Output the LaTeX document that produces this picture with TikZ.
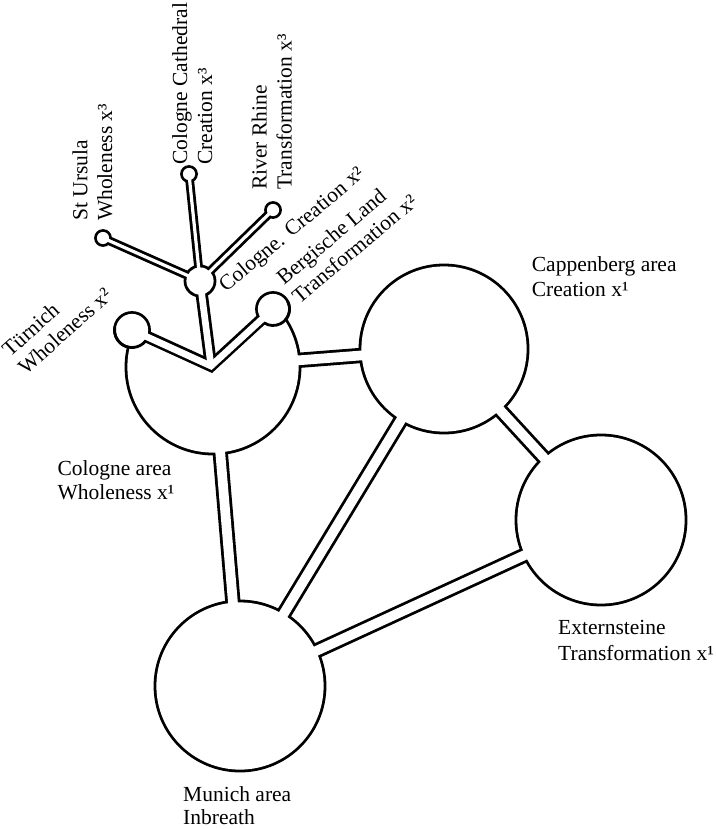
\documentclass[tikz,border=0pt]{standalone}
\usepackage{fontspec}
\newfontfamily\labfont{Liberation Serif}
\usetikzlibrary{calc}
\begin{document}
\begin{tikzpicture}[x=1pt,y=-1pt,
  lab/.style={font=\labfont\fontsize{21.5}{24}\selectfont, inner sep=0pt, anchor=base west},
  % ducts: outer (black) and inner (white) strokes
  bigout/.style={line width=15.3pt, black},
  bigin/.style={line width=9.7pt, white},
  midout/.style={line width=12.3pt, black, line join=miter},
  midin/.style={line width=6.7pt, white, line join=miter},
  smallout/.style={line width=8.8pt, black},
  smallin/.style={line width=3.2pt, white},
  wallarc/.style={line width=2.8pt, black},
]
\fill[white] (0,0) rectangle (715,829);
\useasboundingbox (0,0) rectangle (715,829);

% centres of the chambers
\coordinate (cologne) at (213,367);
\coordinate (cappenberg) at (444,349);
\coordinate (externsteine) at (601,520);
\coordinate (munich) at (240,686);
\coordinate (turnich) at (132,330);
\coordinate (bergische) at (273,309);
\coordinate (creation) at (200,281);
\coordinate (ursula) at (103,238);
\coordinate (cathedral) at (189,174);
\coordinate (rhine) at (273,210);
\coordinate (junction) at (211,366);

% region of the Cologne chamber below the V-shaped duct
\def\colognecut{(74.9,310.6) -- (212.1,373.2) -- (321.2,272.8) -- (335,480) -- (70,480) -- cycle}

% ---- outer (black) layer ----
\fill (cappenberg) circle[radius=85.4];
\fill (externsteine) circle[radius=86.4];
\fill (munich) circle[radius=86.4];
\begin{scope}
  \clip \colognecut;
  \fill (cologne) circle[radius=88.4];
\end{scope}
\fill (turnich) circle[radius=18.9];
\fill (bergische) circle[radius=17.9];
\fill (creation) circle[radius=16.4];
\fill (ursula) circle[radius=8.9];
\fill (cathedral) circle[radius=8.9];
\fill (rhine) circle[radius=8.9];
\draw[bigout] ($(cologne)!0.3!(cappenberg)$) -- (cappenberg);
\draw[bigout] ($(cologne)!0.15!(munich)$) -- (munich);
\draw[bigout] (cappenberg) -- (munich);
\draw[bigout] (cappenberg) -- (externsteine);
\draw[bigout] (munich) -- (externsteine);
\draw[midout] (turnich) -- (junction) -- (bergische);
\draw[midout] (creation) -- (junction);
\draw[smallout] (creation) -- (ursula);
\draw[smallout] (creation) -- (cathedral);
\draw[smallout] (creation) -- (rhine);

% ---- inner (white) layer ----
\fill[white] (cappenberg) circle[radius=82.6];
\fill[white] (externsteine) circle[radius=83.6];
\fill[white] (munich) circle[radius=83.6];
\begin{scope}
  \clip \colognecut;
  \fill[white] (cologne) circle[radius=85.6];
\end{scope}
\fill[white] (turnich) circle[radius=16.1];
\fill[white] (bergische) circle[radius=15.1];
\fill[white] (creation) circle[radius=13.6];
\fill[white] (ursula) circle[radius=6.1];
\fill[white] (cathedral) circle[radius=6.1];
\fill[white] (rhine) circle[radius=6.1];
\draw[bigin] ($(cologne)!0.3!(cappenberg)$) -- (cappenberg);
\draw[bigin] ($(cologne)!0.15!(munich)$) -- (munich);
\draw[bigin] (cappenberg) -- (munich);
\draw[bigin] (cappenberg) -- (externsteine);
\draw[bigin] (munich) -- (externsteine);
\draw[midin] (turnich) -- (junction) -- (bergische);
\draw[midin] (creation) -- (junction);
\draw[smallin] (creation) -- (ursula);
\draw[smallin] (creation) -- (cathedral);
\draw[smallin] (creation) -- (rhine);

% walls closing the two bubbles off from the Cologne chamber
\draw[wallarc] (turnich) ++(38:17.5) arc[start angle=38, end angle=190, radius=17.5];
\draw[wallarc] (bergische) ++(-28:16.5) arc[start angle=-28, end angle=122, radius=16.5];

% ---- labels ----
\node[lab] (capp1) at (531.7,271.7) {Cappenberg area};
\node[lab] (capp2) at (531.7,296) {Creation x¹};
\node[lab] (ext1) at (558,634.7) {Externsteine};
\node[lab] (ext2) at (558,660) {Transformation x¹};
\node[lab] (mun1) at (183,801) {Munich area};
\node[lab] (mun2) at (183,824.5) {Inbreath};
\node[lab] (col1) at (57.3,475.7) {Cologne area};
\node[lab] (col2) at (57.3,499) {Wholeness x¹};

\node[lab, rotate=90] (urs1) at (87.3,221) {St Ursula};
\node[lab, rotate=90] (urs2) at (112,221) {Wholeness x³};
\node[lab, rotate=90] (cat1) at (187,165) {Cologne Cathedral};
\node[lab, rotate=90] (cat2) at (212,165) {Creation x³};
\node[lab, rotate=90] (rhi1) at (266.7,190) {River Rhine};
\node[lab, rotate=90] (rhi2) at (291.7,190) {Transformation x³};

\node[lab, rotate=40] (cre1) at (226,293) {Cologne. Creation x²};
\node[lab, rotate=40] (ber1) at (284,286) {Bergische Land};
\node[lab, rotate=40] (ber2) at (299.4,304.4) {Transformation x²};

\node[lab, rotate=42] (tur1) at (10,358) {Türnich};
\node[lab, rotate=42] (tur2) at (26,376) {Wholeness x²};
\end{tikzpicture}
\end{document}
